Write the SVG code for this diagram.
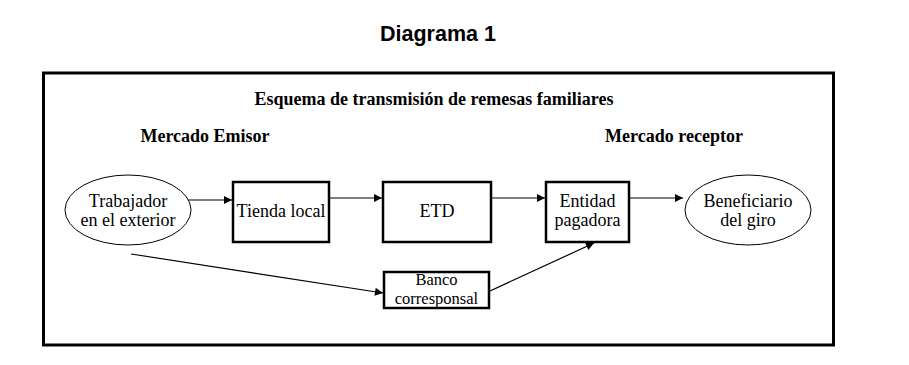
<svg xmlns="http://www.w3.org/2000/svg" width="909" height="365" viewBox="0 0 909 365">
<style>
.t{font-family:"Liberation Serif","Times New Roman",serif;font-size:18px;fill:#000;text-anchor:middle}
.s{font-size:16.5px}
.b{font-weight:bold}
.box{fill:#fff;stroke:#000;stroke-width:2.5}
.ell{fill:#fff;stroke:#000;stroke-width:1}
.c{stroke:#000;stroke-width:1.2;fill:none;marker-end:url(#ah)}
</style>
<defs>
<marker id="ah" viewBox="0 0 10 10" refX="10" refY="5" markerWidth="10" markerHeight="8" markerUnits="userSpaceOnUse" orient="auto">
<path d="M0,0 L10,5 L0,10 z" fill="#000"/>
</marker>
</defs>
<rect width="909" height="365" fill="#fff"/>
<text x="438" y="41" style="font-family:'Liberation Sans',Arial,sans-serif;font-size:21.5px;font-weight:bold;text-anchor:middle">Diagrama 1</text>
<rect x="43.5" y="73" width="790" height="272" fill="none" stroke="#000" stroke-width="3"/>
<text class="t b" x="434" y="105">Esquema de transmisión de remesas familiares</text>
<text class="t b" x="205" y="142">Mercado Emisor</text>
<text class="t b" x="674" y="142">Mercado receptor</text>
<g id="connectors">
<line class="c" x1="185" y1="200" x2="232" y2="200"/>
<line class="c" x1="330" y1="198" x2="382" y2="198"/>
<line class="c" x1="492" y1="198" x2="545" y2="198"/>
<line class="c" x1="630" y1="198" x2="683" y2="198"/>
<line class="c" x1="131" y1="254" x2="383" y2="293"/>
<line class="c" x1="490" y1="291" x2="594" y2="243"/>
</g>
<g id="trabajador">
<ellipse class="ell" cx="128" cy="210" rx="63" ry="35"/>
<text class="t" x="128" y="207">Trabajador</text>
<text class="t" x="128" y="226">en el exterior</text>
</g>
<g id="tienda">
<rect class="box" x="233" y="182" width="96" height="60"/>
<text class="t" x="281" y="217">Tienda local</text>
</g>
<g id="etd">
<rect class="box" x="383" y="182" width="108" height="60"/>
<text class="t" x="437" y="217">ETD</text>
</g>
<g id="entidad">
<rect class="box" x="546" y="182" width="83" height="60"/>
<text class="t" x="587.5" y="207">Entidad</text>
<text class="t" x="587.5" y="226">pagadora</text>
</g>
<g id="beneficiario">
<ellipse class="ell" cx="748" cy="210" rx="63" ry="35"/>
<text class="t" x="748" y="207">Beneficiario</text>
<text class="t" x="748" y="226">del giro</text>
</g>
<g id="banco">
<rect class="box" x="384" y="272" width="105" height="36" stroke-width="2"/>
<text class="t s" x="436.5" y="285">Banco</text>
<text class="t s" x="436.5" y="304">corresponsal</text>
</g>
</svg>
